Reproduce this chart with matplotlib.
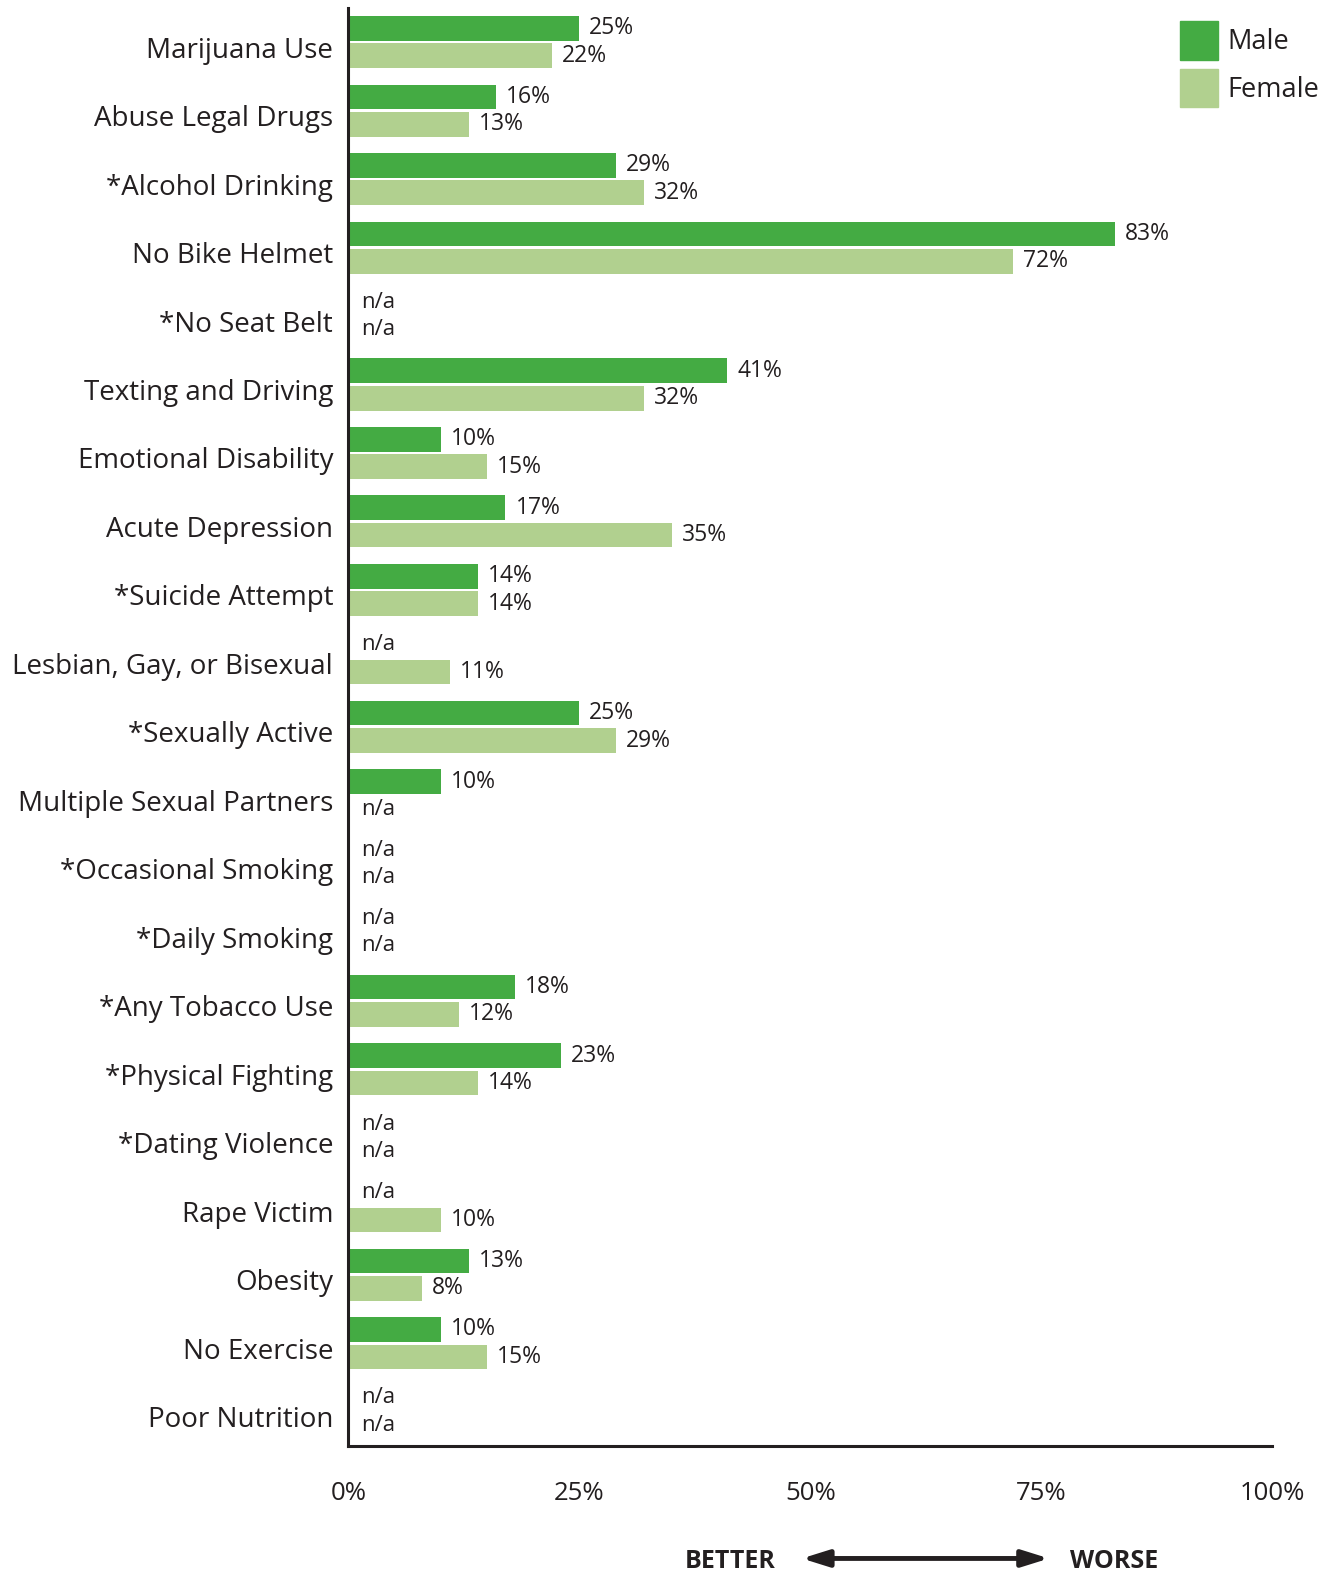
import numpy as np
import matplotlib.pyplot as plt
import matplotlib.transforms as mtransforms
from matplotlib.patches import Patch

# %% Data
categories = [
    "Marijuana Use", "Abuse Legal Drugs", "*Alcohol Drinking", "No Bike Helmet",
    "*No Seat Belt", "Texting and Driving", "Emotional Disability", "Acute Depression",
    "*Suicide Attempt", "Lesbian, Gay, or Bisexual", "*Sexually Active",
    "Multiple Sexual Partners", "*Occasional Smoking", "*Daily Smoking",
    "*Any Tobacco Use", "*Physical Fighting", "*Dating Violence", "Rape Victim",
    "Obesity", "No Exercise", "Poor Nutrition",
]
# None = n/a
male = [25, 16, 29, 83, None, 41, 10, 17, 14, None, 25, 10, None, None, 18, 23, None, None, 13, 10, None]
female = [22, 13, 32, 72, None, 32, 15, 35, 14, 11, 29, None, None, None, 12, 14, None, 10, 8, 15, None]
x_ticks = [0, 25, 50, 75, 100]

male_color = "#44ab43"
female_color = "#b1d08f"
text_color = "#231f20"

plt.rcParams["font.family"] = ["Open Sans", "DejaVu Sans"]

fig = plt.figure(figsize=(13.22, 15.75), dpi=100)
ax = fig.add_axes([0.2636, 0.082, 0.6986, 0.913])

y = np.arange(len(categories))
h = 0.36
off = 0.2

for vals, dy, col in [(male, -off, male_color), (female, off, female_color)]:
    for yi, v in zip(y, vals):
        if v is None:
            ax.annotate("n/a", (0, yi + dy), xytext=(13, 0), textcoords="offset pixels",
                        va="center", ha="left", fontsize=16, color=text_color)
        else:
            ax.barh(yi + dy, v, height=h, color=col, edgecolor="none")
            ax.annotate(f"{v}%", (v, yi + dy), xytext=(10, 0), textcoords="offset pixels",
                        va="center", ha="left", fontsize=16.5, color=text_color)

ax.set_xlim(0, 100)
ax.set_ylim(len(categories) - 0.5, -0.5)
ax.set_yticks(y)
ax.set_yticklabels(categories, fontsize=20, color=text_color)
ax.set_xticks(x_ticks)
ax.set_xticklabels([f"{t}%" for t in x_ticks], fontsize=18.5, color=text_color)
ax.tick_params(axis="y", length=0, pad=11)
ax.tick_params(axis="x", length=0, pad=25)

# labels sit a little below the group centre
shift = mtransforms.ScaledTranslation(0, -5 / 100, fig.dpi_scale_trans)
for lab in ax.get_yticklabels():
    lab.set_transform(lab.get_transform() + shift)

for s in ["top", "right"]:
    ax.spines[s].set_visible(False)
for s in ["left", "bottom"]:
    ax.spines[s].set_linewidth(2.2)
    ax.spines[s].set_color(text_color)

# Legend
handles = [Patch(color=male_color, label="Male"), Patch(color=female_color, label="Female")]
fig.legend(handles=handles, loc="upper left", bbox_to_anchor=(0.8923, 0.9865), frameon=False,
           fontsize=19.5, handlelength=1.4, handleheight=1.8, labelspacing=0.34,
           handletextpad=0.38, borderaxespad=0, borderpad=0, labelcolor=text_color)

# Better / worse arrow
fig.text(0.552, 0.0085, "BETTER", ha="center", va="center", fontsize=18, fontweight="bold", color=text_color)
fig.text(0.843, 0.0085, "WORSE", ha="center", va="center", fontsize=18, fontweight="bold", color=text_color)
ax.annotate("", xy=(0.6065, 0.0105), xytext=(0.7935, 0.0105), xycoords="figure fraction",
            arrowprops=dict(arrowstyle="<|-|>,head_length=1.6,head_width=0.5", lw=3.5,
                            color=text_color, shrinkA=0, shrinkB=0))

plt.savefig("out.png", dpi=100)
